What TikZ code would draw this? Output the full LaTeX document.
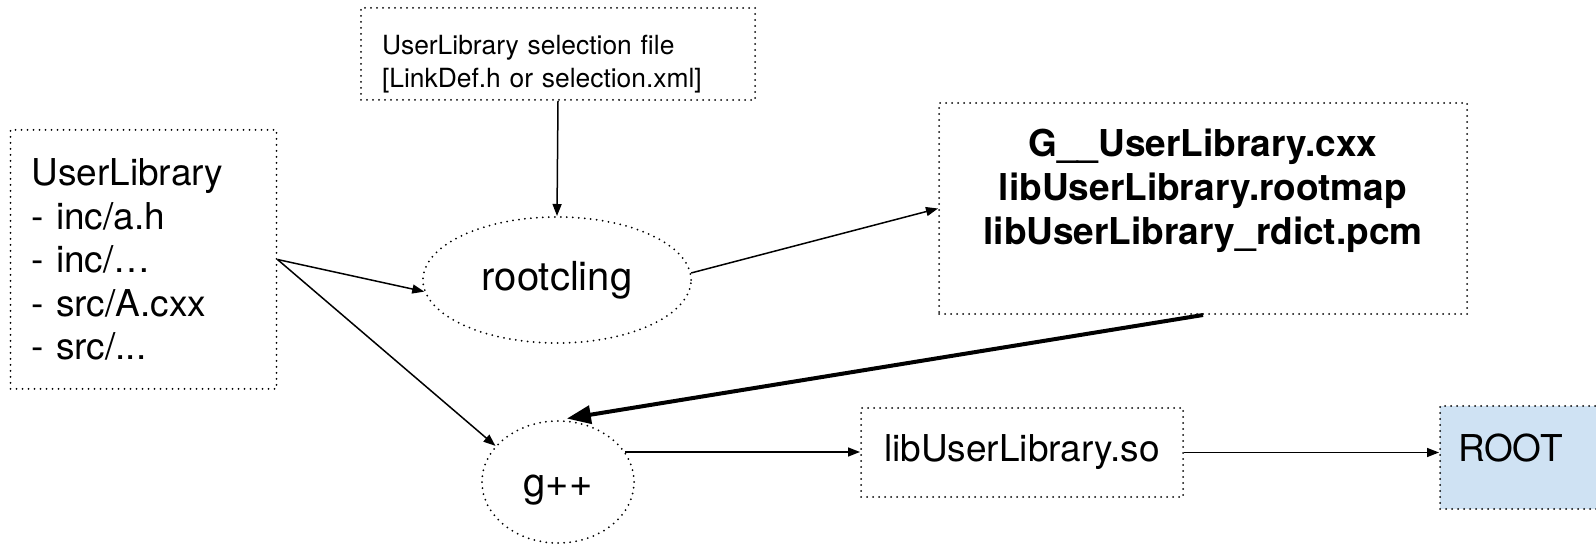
\documentclass[tikz,border=0pt]{standalone}
\usepackage{fontspec}
\setmainfont{TeX Gyre Heros}
\usepackage{xcolor}
\usepackage{tikz}
\usetikzlibrary{arrows.meta,shapes.geometric}
\definecolor{rootblue}{HTML}{CFE2F3}

\begin{document}
\begin{tikzpicture}[x=0.5pt,y=-0.5pt,
		dots/.style={draw,line width=1pt,line cap=round,dash pattern=on 0pt off 3pt},
		filebox/.style={dots,rectangle,inner sep=0pt},
		tool/.style={dots,ellipse,inner sep=0pt,font=\fontsize{20}{24}\selectfont},
		big/.style={font=\fontsize{18.5}{21.75}\selectfont}]
		\useasboundingbox (0,0) rectangle (1596,544);
		\clip (0,0) rectangle (1596,544);
		%
		\node[filebox,big,align=left,text width=112pt,inner xsep=10.5pt,minimum width=133pt,minimum height=129.5pt] (lib) at (143.5,259.5) {UserLibrary\\- inc/a.h\\- inc/…\\- src/A.cxx\\- src/...};
		\node[filebox,minimum width=197pt,minimum height=46pt] (sel) at (558,54) {};
		\node[font=\fontsize{13.2}{16.5}\selectfont,align=left,text width=176pt] (seltext) at (558,64) {UserLibrary selection file\\{}[LinkDef.h or selection.xml]};
		\node[tool,minimum width=134pt,minimum height=63pt] (rootcling) at (557,280) {rootcling};
		\node[filebox,minimum width=264pt,minimum height=105.5pt] (out) at (1203,208.5) {};
		\node[font=\bfseries\fontsize{18.5}{22}\selectfont,align=center] (outfiles) at (1203,191) {G\_\_UserLibrary.cxx\\libUserLibrary.rootmap\\libUserLibrary\_rdict.pcm};
		\node[tool,minimum width=76pt,minimum height=61pt,text height=18pt,text depth=3pt] (gpp) at (558,482) {g++};
		\node[filebox,big,minimum width=161pt,minimum height=44.5pt] (so) at (1022,452.5) {libUserLibrary.so};
		\node[filebox,big,fill=rootblue,align=left,text width=82pt,inner xsep=9pt,minimum width=100pt,minimum height=51.5pt,text height=13.5pt,text depth=9.75pt] (root) at (1540,457.5) {ROOT};
		%
		\path[->,line width=0.75pt,>={Triangle[length=6pt,width=4.5pt]}]
		(sel.south) edge (rootcling.north)
		(lib.east) edge (rootcling.185)
		(lib.east) edge (gpp.150)
		(rootcling.3) edge (out.west)
		(gpp.24) edge (gpp.24 -| so.west)
		(so.east) edge (so.east -| root.west);
		%
		\draw[->,line width=2pt,>={Triangle[length=12pt,width=9pt]},shorten >=4.5pt] (out.south) -- (gpp.north);
\end{tikzpicture}
\end{document}
